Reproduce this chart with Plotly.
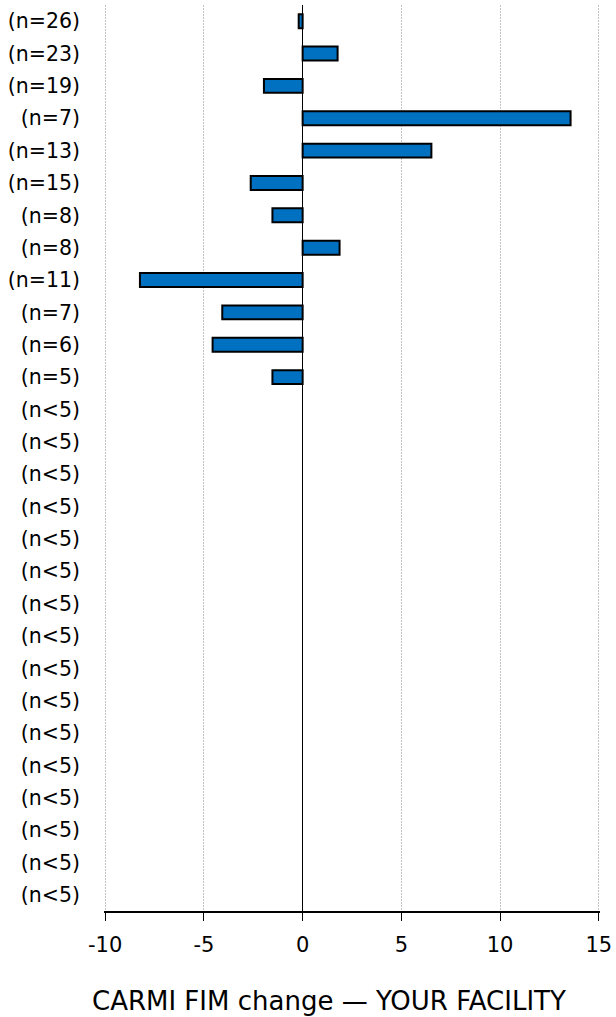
import plotly.graph_objects as go

labels = ["(n=26)", "(n=23)", "(n=19)", "(n=7)", "(n=13)", "(n=15)", "(n=8)", "(n=8)",
          "(n=11)", "(n=7)", "(n=6)", "(n=5)"] + ["(n<5)"] * 16
values = [-0.2, 1.77, -1.96, 13.57, 6.52, -2.63, -1.53, 1.87, -8.24, -4.07, -4.56, -1.53] + [None] * 16
positions = list(range(len(labels)))
x_ticks = [-10, -5, 0, 5, 10, 15]
x_title = "CARMI FIM change \u2014 YOUR FACILITY"

FONT = "DejaVu Sans"

fig = go.Figure(go.Bar(
    x=values, y=positions, orientation="h",
    marker=dict(color="#0070C0", line=dict(color="black", width=2)),
    width=0.43,
))

fig.update_layout(
    width=616, height=1017,
    margin=dict(l=104, r=16, t=5, b=106),
    plot_bgcolor="white", paper_bgcolor="white",
    showlegend=False,
    font=dict(family=FONT, size=20, color="black"),
    xaxis=dict(
        range=[-10.06, 15.06], tickvals=x_ticks, ticktext=[str(v) for v in x_ticks],
        showgrid=True, gridcolor="#c4c4c4", griddash="2px,1px", gridwidth=1,
        zeroline=True, zerolinecolor="black", zerolinewidth=1,
        showline=True, linecolor="black", linewidth=1.5,
        ticks="outside", ticklen=8, tickcolor="black", tickwidth=1,
        tickfont=dict(size=21), ticklabelstandoff=6,
    ),
    yaxis=dict(
        tickvals=positions, ticktext=labels,
        range=[len(labels) - 0.5, -0.5],
        showgrid=False, zeroline=False, showline=False,
        ticks="", tickfont=dict(size=20.5), ticklabelstandoff=23,
    ),
    annotations=[dict(
        text=x_title, xref="paper", yref="paper", x=0.454, y=0,
        xanchor="center", yanchor="middle", yshift=-90, showarrow=False,
        font=dict(size=26, family=FONT),
    )],
)

fig.write_html("out.html", config={"displayModeBar": False},
               post_script="document.body.style.margin='0';")
